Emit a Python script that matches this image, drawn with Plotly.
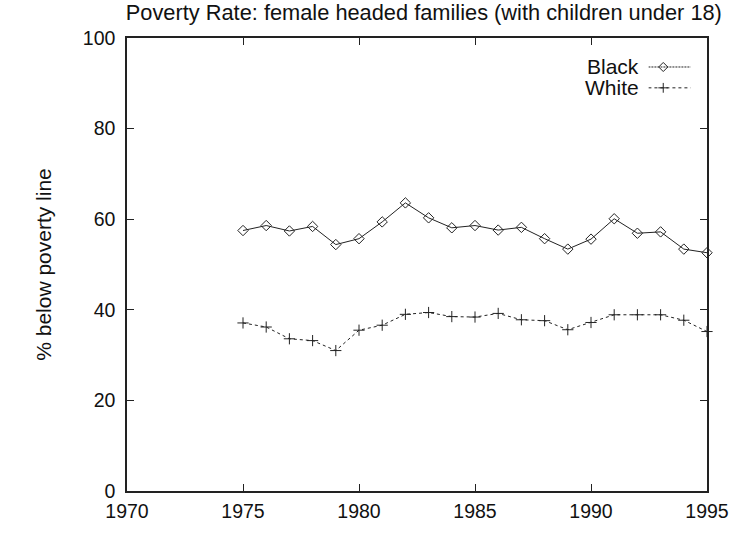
import plotly.graph_objects as go

# Poverty rate (%) for female headed families with children under 18
years = list(range(1975, 1996))
black = [57.5, 58.6, 57.4, 58.4, 54.4, 55.7, 59.4, 63.6, 60.3, 58.1,
         58.6, 57.6, 58.2, 55.7, 53.4, 55.6, 60.1, 56.9, 57.2, 53.4, 52.6]
white = [37.1, 36.2, 33.6, 33.2, 31.0, 35.5, 36.6, 39.0, 39.4, 38.5,
         38.4, 39.2, 37.8, 37.6, 35.6, 37.2, 38.9, 38.9, 38.9, 37.7, 35.2]

x_ticks = [1970, 1975, 1980, 1985, 1990, 1995]
y_ticks = [0, 20, 40, 60, 80, 100]

FONT = "Liberation Sans, Arial, Helvetica, sans-serif"
INK = "#222222"
TEXT = "#111111"

fig = go.Figure()

fig.add_trace(go.Scatter(
    x=years, y=black, mode="lines+markers", name="Black",
    line=dict(color=INK, width=1),
    marker=dict(symbol="diamond-open", size=8, color=INK, line=dict(width=1)),
    showlegend=False, cliponaxis=False,
))
fig.add_trace(go.Scatter(
    x=years, y=white, mode="lines+markers", name="White",
    line=dict(color=INK, width=1, dash="3px,3px"),
    marker=dict(symbol="cross-thin-open", size=8, color=INK, line=dict(width=1, color=INK)),
    showlegend=False, cliponaxis=False,
))

# key samples drawn to the right of their labels
key_x = [0.0, 1.0]
fig.add_trace(go.Scatter(
    x=key_x, y=[0.5, 0.5], xaxis="x2", yaxis="y2", mode="lines",
    line=dict(color=INK, width=1, dash="2px,1px"), showlegend=False, hoverinfo="skip",
))
fig.add_trace(go.Scatter(
    x=[0.35], y=[0.5], xaxis="x2", yaxis="y2", mode="markers",
    marker=dict(symbol="diamond-open", size=7, color=INK), showlegend=False, hoverinfo="skip",
))
fig.add_trace(go.Scatter(
    x=key_x, y=[0.5, 0.5], xaxis="x3", yaxis="y3", mode="lines",
    line=dict(color=INK, width=1, dash="3px,3px"), showlegend=False, hoverinfo="skip",
))
fig.add_trace(go.Scatter(
    x=[0.35], y=[0.5], xaxis="x3", yaxis="y3", mode="markers",
    marker=dict(symbol="cross-thin-open", size=7, color=INK, line=dict(width=1, color=INK)),
    showlegend=False, hoverinfo="skip",
))

axis_common = dict(
    showgrid=False, zeroline=False, showline=True, linecolor=INK, linewidth=1.5,
    mirror="ticks", ticks="inside", ticklen=7, tickcolor=INK, tickwidth=1.2,
    tickfont=dict(family=FONT, size=19.5, color=TEXT),
)

hidden = dict(visible=False, range=[0, 1], fixedrange=True)

fig.update_layout(
    width=741, height=534,
    margin=dict(l=127, r=28, t=38, b=40),
    paper_bgcolor="white", plot_bgcolor="white",
    title=dict(
        text="Poverty Rate: female headed families (with children under 18)",
        font=dict(family=FONT, size=21.8, color=TEXT),
        x=0.572, xanchor="center", y=0.977, yanchor="middle",
    ),
    xaxis=dict(range=[1970, 1995], tickvals=x_ticks, ticklabelstandoff=2, **axis_common),
    yaxis=dict(range=[0, 100], tickvals=y_ticks, ticklabelstandoff=6,
               title=dict(text="% below poverty line", standoff=25,
                          font=dict(family=FONT, size=21, color=TEXT)),
               **axis_common),
    xaxis2=dict(domain=[0.899, 0.972], anchor="y2", **hidden),
    yaxis2=dict(domain=[0.916, 0.956], anchor="x2", **hidden),
    xaxis3=dict(domain=[0.899, 0.972], anchor="y3", **hidden),
    yaxis3=dict(domain=[0.870, 0.910], anchor="x3", **hidden),
    annotations=[
        dict(text="Black", xref="paper", yref="paper", x=0.886, y=0.936,
             xanchor="right", yanchor="middle", showarrow=False,
             font=dict(family=FONT, size=21, color=TEXT)),
        dict(text="White", xref="paper", yref="paper", x=0.886, y=0.890,
             xanchor="right", yanchor="middle", showarrow=False,
             font=dict(family=FONT, size=21, color=TEXT)),
    ],
)

fig.write_html("out.html")
